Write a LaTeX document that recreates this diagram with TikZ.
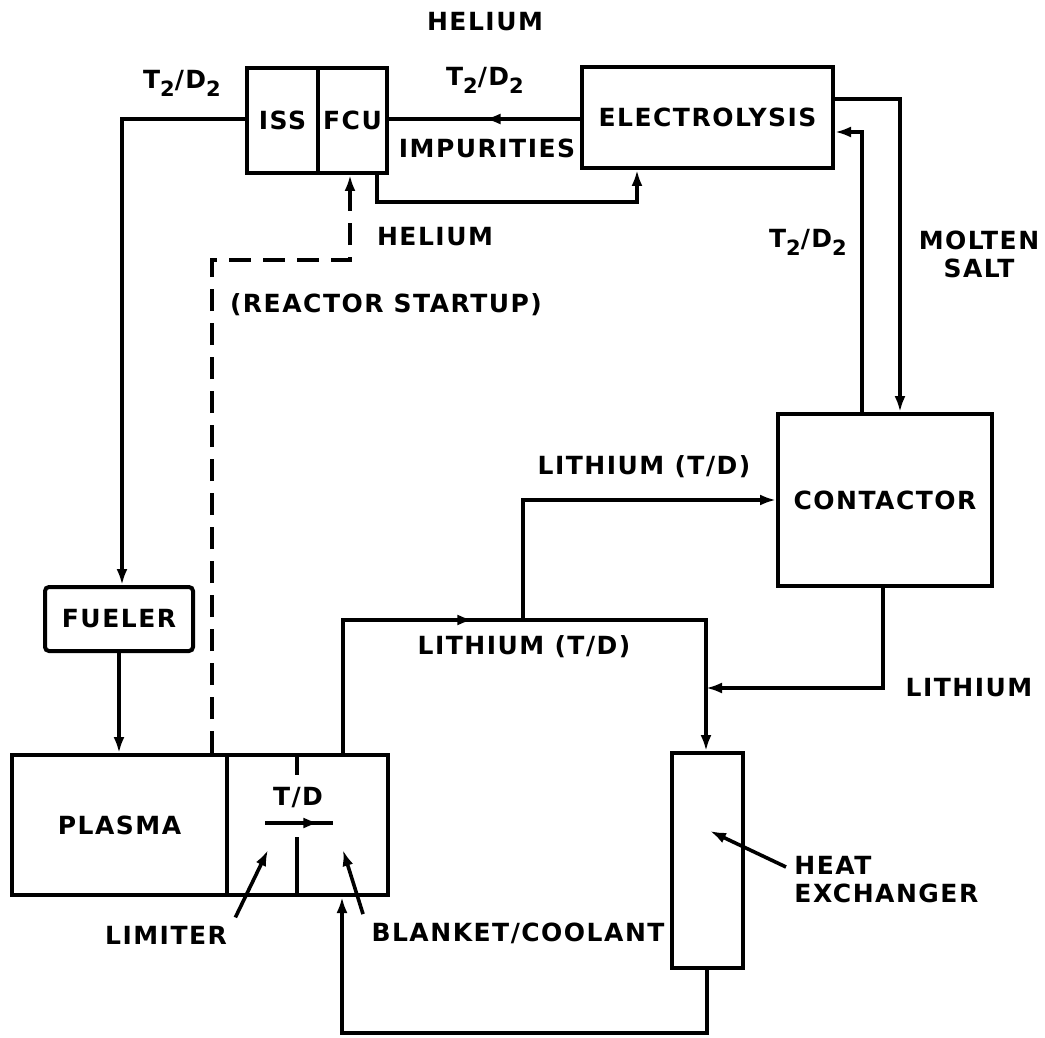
\documentclass[tikz,border=0pt]{standalone}
\usepackage{fontspec}
\setmainfont[LetterSpace=6]{DejaVu Sans}
\usetikzlibrary{arrows.meta,decorations.markings}

\newcommand{\sub}[1]{\raisebox{-0.6ex}{\fontsize{10.5}{10.5}\selectfont #1}}
\newcommand{\tdgas}{T\sub{2}/D\sub{2}}

\tikzset{
  flowsheet/.style={x=0.5pt,y=-0.5pt,line width=1.8pt,
    font=\fontsize{12.5}{14}\selectfont\bfseries,
    >={Latex[length=8pt,width=5.5pt]}},
  unit/.style={draw,line width=2pt,inner sep=0pt},
  startup/.style={dash pattern=on 11pt off 6pt},
  arrowat/.style={postaction={decorate},decoration={markings,
    mark=at position #1 with {\arrow{Latex[length=8pt,width=5.5pt]}}}}
}

\begin{document}
\begin{tikzpicture}[flowsheet]
  \useasboundingbox (0,0) rectangle (1045,1038);

  % units
  \node[unit,minimum width=35.5pt,minimum height=52.5pt] (iss) at (282.5,120.5) {ISS};
  \node[unit,minimum width=34.5pt,minimum height=52.5pt] (fcu) at (352.5,120.5) {FCU};
  \node[unit,minimum width=125.5pt,minimum height=50.5pt] (elec) at (707.5,117.5) {ELECTROLYSIS};
  \node[unit,minimum width=107pt,minimum height=86pt] (cont) at (885,500) {CONTACTOR};
  \node[unit,rounded corners=2pt,minimum width=74pt,minimum height=32pt] (fuel) at (119,619) {FUELER};
  \node[unit,minimum width=107.5pt,minimum height=70pt] (plasma) at (119.5,825) {PLASMA};
  \node[unit,minimum width=80.5pt,minimum height=70pt] (blanket) at (307.5,825) {};
  \node[unit,minimum width=35.5pt,minimum height=107.5pt] (hx) at (707.5,860.5) {};

  % stream labels
  \node (hetop) at (485,22) {HELIUM};
  \node (tdleft) at (182,83) {\tdgas};
  \node (tdmid) at (485,80) {\tdgas};
  \node (impur) at (487,148) {IMPURITIES};
  \node (helow) at (435,237) {HELIUM};
  \node (start) at (386,305) {(REACTOR STARTUP)};
  \node (tdright) at (808,242) {\tdgas};
  \node[align=center] (salt) at (979,254) {MOLTEN\\SALT};
  \node (liup) at (644,467) {LITHIUM (T/D)};
  \node (lilow) at (524,647) {LITHIUM (T/D)};
  \node (liright) at (969,688) {LITHIUM};
  \node (tdin) at (298,798) {T/D};
  \node (limiter) at (166,935) {LIMITER};
  \node (blank) at (518,933) {BLANKET/COOLANT};
  \node[align=left,anchor=west] (hxlbl) at (786,880) {HEAT\\EXCHANGER};

  % bends
  \coordinate (tl) at (122,119);
  \coordinate (st) at (212,260);
  \coordinate (sf) at (350,260);
  \coordinate (he1) at (377,202);
  \coordinate (he2) at (637,202);
  \coordinate (ms) at (900,99);
  \coordinate (tb) at (862,132);
  \coordinate (la) at (343,620);
  \coordinate (lb) at (706,620);
  \coordinate (lm) at (523,620);
  \coordinate (lc) at (523,500);
  \coordinate (co) at (883,688);
  \coordinate (ba) at (707,1033);
  \coordinate (bb) at (342,1033);
  \coordinate (limtip) at (268,850);
  \coordinate (blktip) at (343,850);
  \coordinate (hxtip) at (710,831);

  % fuel side
  \draw[->] (iss.west |- tl) -- (tl) -- (tl |- fuel.north);
  \draw[->] (fuel.south) -- (fuel.south |- plasma.north);
  \draw[->,startup] (st |- plasma.north) -- (st) -- (sf) -- (sf |- fcu.south);
  \draw[arrowat=0.5] (elec.west |- tl) -- (fcu.east |- tl);
  \draw[->] (he1 |- fcu.south) -- (he1) -- (he2) -- (he2 |- elec.south);

  % salt loop
  \draw[->] (elec.east |- ms) -- (ms) -- (ms |- cont.north);
  \draw[->] (tb |- cont.north) -- (tb) -- (tb -| elec.east);

  % lithium loop
  \draw[->,arrowat=0.42] (la |- blanket.north) -- (la) -- (lb) -- (lb |- hx.north);
  \draw[->] (lm) -- (lc) -- (lc -| cont.west);
  \draw[->] (co |- cont.south) -- (co) -- (co -| lb);
  \draw[->] (ba |- hx.south) -- (ba) -- (bb) -- (bb |- blanket.south);

  % inside blanket
  \draw (297,755) -- (297,775);
  \draw (297,837) -- (297,895);
  \draw[arrowat=0.8] (265,823) -- (333,823);

  % pointers
  \draw[->] (limiter.north east) -- (limtip);
  \draw[->] (blank.north west) -- (blktip);
  \draw[->] ([yshift=6.5pt]hxlbl.west) -- (hxtip);
\end{tikzpicture}
\end{document}
